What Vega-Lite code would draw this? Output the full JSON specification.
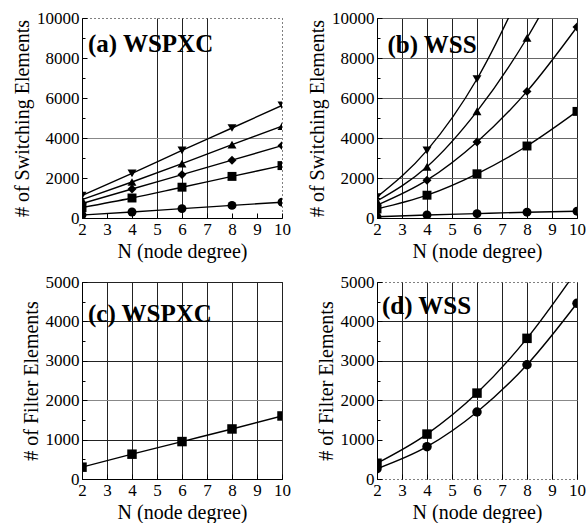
{
  "$schema": "https://vega.github.io/schema/vega-lite/v6.json",
  "padding": {"left": 12, "top": 8, "right": 0, "bottom": 0},
  "background": "white",
  "config": {
    "font": "Liberation Serif",
    "view": {"stroke": "black", "strokeWidth": 1},
    "axis": {
      "labelFont": "Liberation Serif", "labelFontSize": 17, "labelColor": "black", "labelFontWeight": "normal", "labelOverlap": false,
      "titleFont": "Liberation Serif", "titleFontSize": 20, "titleFontWeight": "normal", "titleColor": "black",
      "domainColor": "black", "tickColor": "black", "tickSize": -5, "labelPadding": 8,
      "gridColor": "#222", "gridOpacity": 1, "gridWidth": 1
    }
  },
  "datasets": {
    "sw_wspxc": [
      {"N": 2, "series": "circle", "value": 150}, {"N": 4, "series": "circle", "value": 300}, {"N": 6, "series": "circle", "value": 470}, {"N": 8, "series": "circle", "value": 630}, {"N": 10, "series": "circle", "value": 790},
      {"N": 2, "series": "square", "value": 520}, {"N": 4, "series": "square", "value": 1000}, {"N": 6, "series": "square", "value": 1540}, {"N": 8, "series": "square", "value": 2080}, {"N": 10, "series": "square", "value": 2620},
      {"N": 2, "series": "diamond", "value": 720}, {"N": 4, "series": "diamond", "value": 1450}, {"N": 6, "series": "diamond", "value": 2170}, {"N": 8, "series": "diamond", "value": 2890}, {"N": 10, "series": "diamond", "value": 3620},
      {"N": 2, "series": "up", "value": 920}, {"N": 4, "series": "up", "value": 1800}, {"N": 6, "series": "up", "value": 2720}, {"N": 8, "series": "up", "value": 3670}, {"N": 10, "series": "up", "value": 4590},
      {"N": 2, "series": "down", "value": 1120}, {"N": 4, "series": "down", "value": 2230}, {"N": 6, "series": "down", "value": 3380}, {"N": 8, "series": "down", "value": 4500}, {"N": 10, "series": "down", "value": 5630}
    ],
    "sw_wss": [
      {"N": 2, "series": "circle", "value": 60}, {"N": 4, "series": "circle", "value": 150}, {"N": 6, "series": "circle", "value": 220}, {"N": 8, "series": "circle", "value": 290}, {"N": 10, "series": "circle", "value": 340},
      {"N": 2, "series": "square", "value": 450}, {"N": 4, "series": "square", "value": 1140}, {"N": 6, "series": "square", "value": 2210}, {"N": 8, "series": "square", "value": 3600}, {"N": 10, "series": "square", "value": 5330},
      {"N": 2, "series": "diamond", "value": 640}, {"N": 4, "series": "diamond", "value": 1890}, {"N": 6, "series": "diamond", "value": 3800}, {"N": 8, "series": "diamond", "value": 6330}, {"N": 10, "series": "diamond", "value": 9550},
      {"N": 2, "series": "up", "value": 850}, {"N": 4, "series": "up", "value": 2560}, {"N": 6, "series": "up", "value": 5330}, {"N": 8, "series": "up", "value": 9000}, {"N": 10, "series": "up", "value": 13600},
      {"N": 2, "series": "down", "value": 1050}, {"N": 4, "series": "down", "value": 3380}, {"N": 6, "series": "down", "value": 6950}, {"N": 8, "series": "down", "value": 12000}, {"N": 10, "series": "down", "value": 18000}
    ],
    "f_wspxc": [
      {"N": 2, "series": "square", "value": 300}, {"N": 4, "series": "square", "value": 630}, {"N": 6, "series": "square", "value": 950}, {"N": 8, "series": "square", "value": 1270}, {"N": 10, "series": "square", "value": 1600}
    ],
    "f_wss": [
      {"N": 2, "series": "square", "value": 400}, {"N": 4, "series": "square", "value": 1140}, {"N": 6, "series": "square", "value": 2180}, {"N": 8, "series": "square", "value": 3570}, {"N": 10, "series": "square", "value": 5300},
      {"N": 2, "series": "circle", "value": 260}, {"N": 4, "series": "circle", "value": 820}, {"N": 6, "series": "circle", "value": 1700}, {"N": 8, "series": "circle", "value": 2900}, {"N": 10, "series": "circle", "value": 4460}
    ],
    "labels": [
      {"panel": "a", "label": "(a) WSPXC"},
      {"panel": "b", "label": "(b) WSS"},
      {"panel": "c", "label": "(c) WSPXC"},
      {"panel": "d", "label": "(d) WSS"}
    ]
  },
  "columns": 2,
  "spacing": {"row": 10, "column": 16},
  "concat": [
    {
      "width": 200, "height": 200,
      "view": {"stroke": "black", "strokeDash": [1, 3]},
      "layer": [
        {"data": {"name": "sw_wspxc"},
         "mark": {"type": "line", "interpolate": "monotone", "color": "black", "strokeWidth": 1.4, "clip": true},
         "encoding": {
           "x": {"field": "N", "type": "quantitative", "scale": {"domain": [2, 10], "nice": false},
             "axis": {"values": [2, 3, 4, 5, 6, 7, 8, 9, 10], "title": "N (node degree)", "labelFlush": false,
               "grid": true, "gridOpacity": {"condition": {"test": "datum.value >= 5 && datum.value <= 7", "value": 1}, "value": 0}}},
           "y": {"field": "value", "type": "quantitative", "scale": {"domain": [0, 10000], "nice": false},
             "axis": {"values": [0, 1000, 2000, 3000, 4000, 5000, 6000, 7000, 8000, 9000, 10000], "format": "d",
               "labelExpr": "datum.value % 2000 === 0 ? datum.label : ''", "title": "# of Switching Elements",
               "tickSize": {"condition": {"test": "datum.value % 2000 === 0", "value": -5}, "value": -3},
               "grid": true, "gridColor": "#888", "gridOpacity": {"condition": {"test": "datum.value === 4000", "value": 1}, "value": 0}}},
           "detail": {"field": "series"}}},
        {"data": {"name": "sw_wspxc"},
         "mark": {"type": "point", "filled": true, "color": "black", "opacity": 1, "size": 80, "clip": true},
         "encoding": {
           "x": {"field": "N", "type": "quantitative", "scale": {"domain": [2, 10], "nice": false},
             "axis": {"values": [2, 3, 4, 5, 6, 7, 8, 9, 10], "title": "N (node degree)", "labelFlush": false,
               "grid": true, "gridOpacity": {"condition": {"test": "datum.value >= 5 && datum.value <= 7", "value": 1}, "value": 0}}},
           "y": {"field": "value", "type": "quantitative", "scale": {"domain": [0, 10000], "nice": false},
             "axis": {"values": [0, 1000, 2000, 3000, 4000, 5000, 6000, 7000, 8000, 9000, 10000], "format": "d",
               "labelExpr": "datum.value % 2000 === 0 ? datum.label : ''", "title": "# of Switching Elements",
               "tickSize": {"condition": {"test": "datum.value % 2000 === 0", "value": -5}, "value": -3},
               "grid": true, "gridColor": "#888", "gridOpacity": {"condition": {"test": "datum.value === 4000", "value": 1}, "value": 0}}},
           "shape": {"field": "series", "type": "nominal", "legend": null,
             "scale": {"domain": ["circle", "square", "diamond", "up", "down"], "range": ["circle", "square", "diamond", "triangle-up", "triangle-down"]}}}},
        {"data": {"name": "labels"},
         "transform": [{"filter": "datum.panel === 'a'"}],
         "mark": {"type": "text", "font": "Liberation Serif", "fontWeight": "bold", "fontSize": 25, "color": "black", "align": "left", "baseline": "middle"},
         "encoding": {
           "x": {"datum": 2.24, "scale": {"domain": [2, 10], "nice": false},
             "axis": {"values": [2, 3, 4, 5, 6, 7, 8, 9, 10], "title": "N (node degree)", "labelFlush": false,
               "grid": true, "gridOpacity": {"condition": {"test": "datum.value >= 5 && datum.value <= 7", "value": 1}, "value": 0}}},
           "y": {"datum": 8700, "scale": {"domain": [0, 10000], "nice": false},
             "axis": {"values": [0, 1000, 2000, 3000, 4000, 5000, 6000, 7000, 8000, 9000, 10000], "format": "d",
               "labelExpr": "datum.value % 2000 === 0 ? datum.label : ''", "title": "# of Switching Elements",
               "tickSize": {"condition": {"test": "datum.value % 2000 === 0", "value": -5}, "value": -3},
               "grid": true, "gridColor": "#888", "gridOpacity": {"condition": {"test": "datum.value === 4000", "value": 1}, "value": 0}}},
           "text": {"field": "label"}}}
      ]
    },
    {
      "width": 200, "height": 200,
      "layer": [
        {"data": {"name": "sw_wss"},
         "mark": {"type": "line", "interpolate": "monotone", "color": "black", "strokeWidth": 1.4, "clip": true},
         "encoding": {
           "x": {"field": "N", "type": "quantitative", "scale": {"domain": [2, 10], "nice": false},
             "axis": {"values": [2, 3, 4, 5, 6, 7, 8, 9, 10], "title": "N (node degree)", "labelFlush": false, "grid": true}},
           "y": {"field": "value", "type": "quantitative", "scale": {"domain": [0, 10000], "nice": false},
             "axis": {"values": [0, 1000, 2000, 3000, 4000, 5000, 6000, 7000, 8000, 9000, 10000], "format": "d",
               "labelExpr": "datum.value % 2000 === 0 ? datum.label : ''", "title": "# of Switching Elements",
               "tickSize": {"condition": {"test": "datum.value % 2000 === 0", "value": -5}, "value": -3},
               "grid": true, "gridColor": "#666", "gridOpacity": {"condition": {"test": "datum.value % 2000 === 0", "value": 1}, "value": 0}}},
           "detail": {"field": "series"}}},
        {"data": {"name": "sw_wss"},
         "mark": {"type": "point", "filled": true, "color": "black", "opacity": 1, "size": 80, "clip": true},
         "encoding": {
           "x": {"field": "N", "type": "quantitative", "scale": {"domain": [2, 10], "nice": false},
             "axis": {"values": [2, 3, 4, 5, 6, 7, 8, 9, 10], "title": "N (node degree)", "labelFlush": false, "grid": true}},
           "y": {"field": "value", "type": "quantitative", "scale": {"domain": [0, 10000], "nice": false},
             "axis": {"values": [0, 1000, 2000, 3000, 4000, 5000, 6000, 7000, 8000, 9000, 10000], "format": "d",
               "labelExpr": "datum.value % 2000 === 0 ? datum.label : ''", "title": "# of Switching Elements",
               "tickSize": {"condition": {"test": "datum.value % 2000 === 0", "value": -5}, "value": -3},
               "grid": true, "gridColor": "#666", "gridOpacity": {"condition": {"test": "datum.value % 2000 === 0", "value": 1}, "value": 0}}},
           "shape": {"field": "series", "type": "nominal", "legend": null,
             "scale": {"domain": ["circle", "square", "diamond", "up", "down"], "range": ["circle", "square", "diamond", "triangle-up", "triangle-down"]}}}},
        {"data": {"name": "labels"},
         "transform": [{"filter": "datum.panel === 'b'"}],
         "mark": {"type": "text", "font": "Liberation Serif", "fontWeight": "bold", "fontSize": 25, "color": "black", "align": "left", "baseline": "middle"},
         "encoding": {
           "x": {"datum": 2.42, "scale": {"domain": [2, 10], "nice": false},
             "axis": {"values": [2, 3, 4, 5, 6, 7, 8, 9, 10], "title": "N (node degree)", "labelFlush": false, "grid": true}},
           "y": {"datum": 8650, "scale": {"domain": [0, 10000], "nice": false},
             "axis": {"values": [0, 1000, 2000, 3000, 4000, 5000, 6000, 7000, 8000, 9000, 10000], "format": "d",
               "labelExpr": "datum.value % 2000 === 0 ? datum.label : ''", "title": "# of Switching Elements",
               "tickSize": {"condition": {"test": "datum.value % 2000 === 0", "value": -5}, "value": -3},
               "grid": true, "gridColor": "#666", "gridOpacity": {"condition": {"test": "datum.value % 2000 === 0", "value": 1}, "value": 0}}},
           "text": {"field": "label"}}}
      ]
    },
    {
      "width": 200, "height": 197,
      "layer": [
        {"data": {"name": "f_wspxc"},
         "mark": {"type": "line", "interpolate": "monotone", "color": "black", "strokeWidth": 1.4, "clip": true},
         "encoding": {
           "x": {"field": "N", "type": "quantitative", "scale": {"domain": [2, 10], "nice": false},
             "axis": {"values": [2, 3, 4, 5, 6, 7, 8, 9, 10], "title": "N (node degree)", "labelFlush": false, "grid": true}},
           "y": {"field": "value", "type": "quantitative", "scale": {"domain": [0, 5000], "nice": false},
             "axis": {"values": [0, 500, 1000, 1500, 2000, 2500, 3000, 3500, 4000, 4500, 5000], "format": "d",
               "labelExpr": "datum.value % 1000 === 0 ? datum.label : ''", "title": "# of Filter Elements",
               "tickSize": {"condition": {"test": "datum.value % 1000 === 0", "value": -5}, "value": -3},
               "grid": true, "gridColor": {"condition": {"test": "datum.value === 2000", "value": "#888"}, "value": "#222"},
               "gridOpacity": {"condition": {"test": "datum.value % 1000 === 0", "value": 1}, "value": 0}}},
           "detail": {"field": "series"}}},
        {"data": {"name": "f_wspxc"},
         "mark": {"type": "point", "filled": true, "color": "black", "opacity": 1, "size": 90, "clip": true},
         "encoding": {
           "x": {"field": "N", "type": "quantitative", "scale": {"domain": [2, 10], "nice": false},
             "axis": {"values": [2, 3, 4, 5, 6, 7, 8, 9, 10], "title": "N (node degree)", "labelFlush": false, "grid": true}},
           "y": {"field": "value", "type": "quantitative", "scale": {"domain": [0, 5000], "nice": false},
             "axis": {"values": [0, 500, 1000, 1500, 2000, 2500, 3000, 3500, 4000, 4500, 5000], "format": "d",
               "labelExpr": "datum.value % 1000 === 0 ? datum.label : ''", "title": "# of Filter Elements",
               "tickSize": {"condition": {"test": "datum.value % 1000 === 0", "value": -5}, "value": -3},
               "grid": true, "gridColor": {"condition": {"test": "datum.value === 2000", "value": "#888"}, "value": "#222"},
               "gridOpacity": {"condition": {"test": "datum.value % 1000 === 0", "value": 1}, "value": 0}}},
           "shape": {"field": "series", "type": "nominal", "legend": null,
             "scale": {"domain": ["circle", "square"], "range": ["circle", "square"]}}}},
        {"data": {"name": "labels"},
         "transform": [{"filter": "datum.panel === 'c'"}],
         "mark": {"type": "text", "font": "Liberation Serif", "fontWeight": "bold", "fontSize": 25, "color": "black", "align": "left", "baseline": "middle"},
         "encoding": {
           "x": {"datum": 2.24, "scale": {"domain": [2, 10], "nice": false},
             "axis": {"values": [2, 3, 4, 5, 6, 7, 8, 9, 10], "title": "N (node degree)", "labelFlush": false, "grid": true}},
           "y": {"datum": 4180, "scale": {"domain": [0, 5000], "nice": false},
             "axis": {"values": [0, 500, 1000, 1500, 2000, 2500, 3000, 3500, 4000, 4500, 5000], "format": "d",
               "labelExpr": "datum.value % 1000 === 0 ? datum.label : ''", "title": "# of Filter Elements",
               "tickSize": {"condition": {"test": "datum.value % 1000 === 0", "value": -5}, "value": -3},
               "grid": true, "gridColor": {"condition": {"test": "datum.value === 2000", "value": "#888"}, "value": "#222"},
               "gridOpacity": {"condition": {"test": "datum.value % 1000 === 0", "value": 1}, "value": 0}}},
           "text": {"field": "label"}}}
      ]
    },
    {
      "width": 200, "height": 197,
      "view": {"stroke": "black", "strokeDash": [1, 3]},
      "layer": [
        {"data": {"name": "f_wss"},
         "mark": {"type": "line", "interpolate": "monotone", "color": "black", "strokeWidth": 1.4, "clip": true},
         "encoding": {
           "x": {"field": "N", "type": "quantitative", "scale": {"domain": [2, 10], "nice": false},
             "axis": {"values": [2, 3, 4, 5, 6, 7, 8, 9, 10], "title": "N (node degree)", "labelFlush": false, "grid": true, "domain": false}},
           "y": {"field": "value", "type": "quantitative", "scale": {"domain": [0, 5000], "nice": false},
             "axis": {"values": [0, 500, 1000, 1500, 2000, 2500, 3000, 3500, 4000, 4500, 5000], "format": "d",
               "labelExpr": "datum.value % 1000 === 0 ? datum.label : ''", "title": "# of Filter Elements",
               "tickSize": {"condition": {"test": "datum.value % 1000 === 0", "value": -5}, "value": -3},
               "grid": true, "gridColor": {"condition": {"test": "datum.value === 2000", "value": "#888"}, "value": "#222"},
               "gridOpacity": {"condition": {"test": "datum.value >= 2000 && datum.value <= 4000 && datum.value % 1000 === 0", "value": 1}, "value": 0}}},
           "detail": {"field": "series"}}},
        {"data": {"name": "f_wss"},
         "mark": {"type": "point", "filled": true, "color": "black", "opacity": 1, "size": 90, "clip": true},
         "encoding": {
           "x": {"field": "N", "type": "quantitative", "scale": {"domain": [2, 10], "nice": false},
             "axis": {"values": [2, 3, 4, 5, 6, 7, 8, 9, 10], "title": "N (node degree)", "labelFlush": false, "grid": true, "domain": false}},
           "y": {"field": "value", "type": "quantitative", "scale": {"domain": [0, 5000], "nice": false},
             "axis": {"values": [0, 500, 1000, 1500, 2000, 2500, 3000, 3500, 4000, 4500, 5000], "format": "d",
               "labelExpr": "datum.value % 1000 === 0 ? datum.label : ''", "title": "# of Filter Elements",
               "tickSize": {"condition": {"test": "datum.value % 1000 === 0", "value": -5}, "value": -3},
               "grid": true, "gridColor": {"condition": {"test": "datum.value === 2000", "value": "#888"}, "value": "#222"},
               "gridOpacity": {"condition": {"test": "datum.value >= 2000 && datum.value <= 4000 && datum.value % 1000 === 0", "value": 1}, "value": 0}}},
           "shape": {"field": "series", "type": "nominal", "legend": null,
             "scale": {"domain": ["circle", "square"], "range": ["circle", "square"]}}}},
        {"data": {"name": "labels"},
         "transform": [{"filter": "datum.panel === 'd'"}],
         "mark": {"type": "text", "font": "Liberation Serif", "fontWeight": "bold", "fontSize": 25, "color": "black", "align": "left", "baseline": "middle"},
         "encoding": {
           "x": {"datum": 2.2, "scale": {"domain": [2, 10], "nice": false},
             "axis": {"values": [2, 3, 4, 5, 6, 7, 8, 9, 10], "title": "N (node degree)", "labelFlush": false, "grid": true, "domain": false}},
           "y": {"datum": 4390, "scale": {"domain": [0, 5000], "nice": false},
             "axis": {"values": [0, 500, 1000, 1500, 2000, 2500, 3000, 3500, 4000, 4500, 5000], "format": "d",
               "labelExpr": "datum.value % 1000 === 0 ? datum.label : ''", "title": "# of Filter Elements",
               "tickSize": {"condition": {"test": "datum.value % 1000 === 0", "value": -5}, "value": -3},
               "grid": true, "gridColor": {"condition": {"test": "datum.value === 2000", "value": "#888"}, "value": "#222"},
               "gridOpacity": {"condition": {"test": "datum.value >= 2000 && datum.value <= 4000 && datum.value % 1000 === 0", "value": 1}, "value": 0}}},
           "text": {"field": "label"}}}
      ]
    }
  ]
}
